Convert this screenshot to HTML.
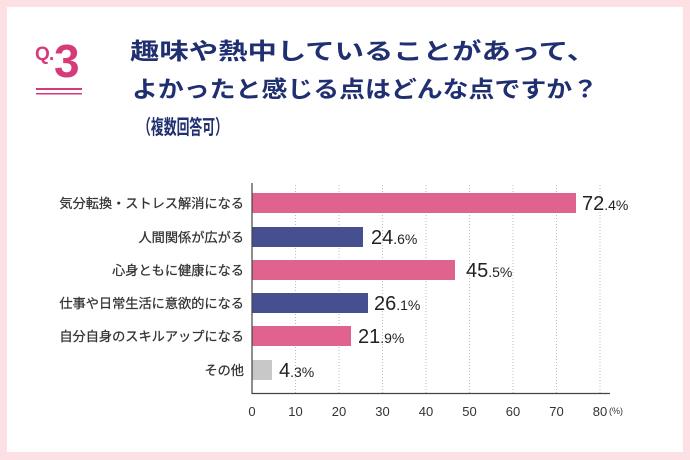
<!DOCTYPE html>
<html><head><meta charset="utf-8"><style>
html,body{margin:0;padding:0;background:#fde0e4;}
svg{display:block}
</style></head><body>
<svg width="690" height="460" xmlns="http://www.w3.org/2000/svg" font-family="Liberation Sans, Noto Sans CJK JP, sans-serif">
<rect x="0" y="0" width="690" height="460" fill="#fde0e4"/>
<rect x="7" y="7" width="676" height="445" fill="#fff"/>
<text x="35" y="60" font-size="19" fill="#d63a78" font-weight="bold">Q</text>
<text x="49" y="60" font-size="19" fill="#d63a78" font-weight="bold">.</text>
<text x="54" y="77" font-size="46" fill="#d63a78" font-weight="bold">3</text>
<rect x="36" y="88" width="46" height="2" fill="#d63a78"/>
<rect x="36" y="93" width="46" height="1.5" fill="#d63a78"/>
<g fill="#1f2f70" font-weight="bold" font-size="23" font-family="Liberation Sans, Noto Sans CJK JP, sans-serif">
<text x="130" y="59" textLength="466" lengthAdjust="spacingAndGlyphs">趣味や熱中していることがあって、</text>
<text x="132" y="97" textLength="466" lengthAdjust="spacingAndGlyphs">よかったと感じる点はどんな点ですか？</text>
<text x="138" y="134" font-size="20" textLength="90" lengthAdjust="spacingAndGlyphs">（複数回答可）</text>
</g>
<g stroke="#bbb" stroke-dasharray="1,2" stroke-width="1">
<line x1="295.5" y1="185" x2="295.5" y2="393"/><line x1="339" y1="185" x2="339" y2="393"/>
<line x1="382.5" y1="185" x2="382.5" y2="393"/><line x1="426" y1="185" x2="426" y2="393"/>
<line x1="469.5" y1="185" x2="469.5" y2="393"/><line x1="513" y1="185" x2="513" y2="393"/>
<line x1="556.5" y1="185" x2="556.5" y2="393"/><line x1="600" y1="185" x2="600" y2="393"/>
</g>
<rect x="252" y="193" width="324" height="20" fill="#e0628e"/>
<rect x="252" y="227" width="111" height="20" fill="#464f8f"/>
<rect x="252" y="260" width="203" height="20" fill="#e0628e"/>
<rect x="252" y="293" width="116" height="20" fill="#464f8f"/>
<rect x="252" y="326" width="99" height="20" fill="#e0628e"/>
<rect x="252" y="360" width="20" height="20" fill="#c8c8c8"/>
<line x1="252" y1="183" x2="252" y2="393.5" stroke="#444" stroke-width="1.2"/>
<line x1="251.5" y1="393.5" x2="610" y2="393.5" stroke="#444" stroke-width="1.2"/>
<g font-size="13.2" fill="#333" text-anchor="end" stroke="#333" stroke-width="0.25">
<text x="244" y="208">気分転換・ストレス解消になる</text>
<text x="244" y="242">人間関係が広がる</text>
<text x="244" y="275">心身ともに健康になる</text>
<text x="244" y="308">仕事や日常生活に意欲的になる</text>
<text x="244" y="341">自分自身のスキルアップになる</text>
<text x="244" y="375">その他</text>
</g>
<g fill="#222" font-size="20">
<text x="582" y="210">72<tspan font-size="14">.4%</tspan></text>
<text x="371" y="244">24<tspan font-size="14">.6%</tspan></text>
<text x="466" y="277">45<tspan font-size="14">.5%</tspan></text>
<text x="374" y="310">26<tspan font-size="14">.1%</tspan></text>
<text x="358" y="343">21<tspan font-size="14">.9%</tspan></text>
<text x="279" y="377">4<tspan font-size="14">.3%</tspan></text>
</g>
<g font-size="13" fill="#333" text-anchor="middle">
<text x="252" y="416">0</text><text x="295.5" y="416">10</text><text x="339" y="416">20</text>
<text x="382.5" y="416">30</text><text x="426" y="416">40</text><text x="469.5" y="416">50</text>
<text x="513" y="416">60</text><text x="556.5" y="416">70</text><text x="600" y="416">80</text>
</g>
<text x="609" y="414" font-size="9" fill="#333">(%)</text>
</svg>
</body></html>
